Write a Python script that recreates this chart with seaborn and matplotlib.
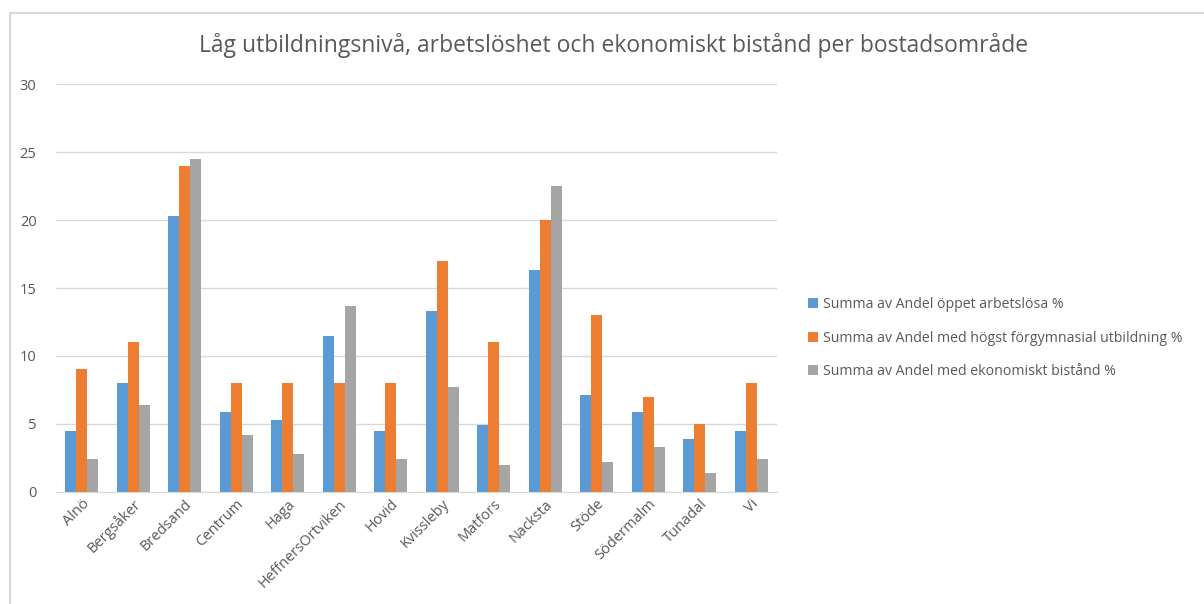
import matplotlib.pyplot as plt
import pandas as pd
import seaborn as sns
from matplotlib.lines import Line2D

sns.set_style("white")
plt.rcParams['font.family'] = ['Open Sans', 'DejaVu Sans']

areas = ["Alnö", "Bergsåker", "Bredsand", "Centrum", "Haga", "HeffnersOrtviken", "Hovid",
         "Kvissleby", "Matfors", "Nacksta", "Stöde", "Södermalm", "Tunadal", "Vi"]
arbetslosa = [4.5, 8.0, 20.3, 5.9, 5.3, 11.5, 4.5, 13.3, 4.9, 16.3, 7.1, 5.9, 3.9, 4.5]
forgymnasial = [9.0, 11.0, 24.0, 8.0, 8.0, 8.0, 8.0, 17.0, 11.0, 20.0, 13.0, 7.0, 5.0, 8.0]
bistand = [2.4, 6.4, 24.5, 4.2, 2.8, 13.7, 2.4, 7.7, 2.0, 22.5, 2.2, 3.3, 1.4, 2.4]

series = ["Summa av Andel öppet arbetslösa %",
          "Summa av Andel med högst förgymnasial utbildning %",
          "Summa av Andel med ekonomiskt bistånd %"]
colours = ["#5B9BD5", "#ED7D31", "#A5A5A5"]

df = pd.DataFrame({
    "area": areas * 3,
    "value": arbetslosa + forgymnasial + bistand,
    "series": [s for s in series for _ in areas],
})

fig = plt.figure(figsize=(12.04, 6.04), dpi=100)
ax = fig.add_axes([56 / 1204, 1 - 491.7 / 604, (777 - 56) / 1204, (491.7 - 84.3) / 604])

sns.barplot(data=df, x="area", y="value", hue="series", palette=colours,
            width=0.64, gap=0, saturation=1, errorbar=None, linewidth=0, ax=ax)

ax.set_ylim(0, 30)
ax.set_yticks(range(0, 31, 5))
ax.set_xlim(-0.5, len(areas) - 0.5)
ax.yaxis.grid(True, color="#D9D9D9", linewidth=1)
ax.set_axisbelow(True)
for side in ["top", "right", "left"]:
    ax.spines[side].set_visible(False)
ax.spines["bottom"].set_color("#D9D9D9")
ax.set_xlabel("")
ax.set_ylabel("")
ax.tick_params(axis="both", length=0, labelsize=10.5, labelcolor="#595959")
ax.tick_params(axis="y", pad=14)
plt.setp(ax.get_xticklabels(), rotation=45, ha="right", rotation_mode="anchor")

fig.suptitle("Låg utbildningsnivå, arbetslöshet och ekonomiskt bistånd per bostadsområde",
             x=614 / 1204, y=1 - 45 / 604, va="center", fontsize=16.5, color="#595959")

ax.legend(loc="center left", bbox_to_anchor=(795 / 1204, 1 - 338 / 604), bbox_transform=fig.transFigure,
          frameon=False, fontsize=10.2, labelcolor="#595959", handlelength=0.7, handleheight=0.7,
          handletextpad=0.4, labelspacing=1.3)

fig.add_artist(Line2D([10 / 1204, 10 / 1204], [0, 1 - 13 / 604], color="#D9D9D9", linewidth=1.5))
fig.add_artist(Line2D([10 / 1204, 1], [1 - 13 / 604, 1 - 13 / 604], color="#D9D9D9", linewidth=1.5))

plt.savefig("out.png", dpi=100)
